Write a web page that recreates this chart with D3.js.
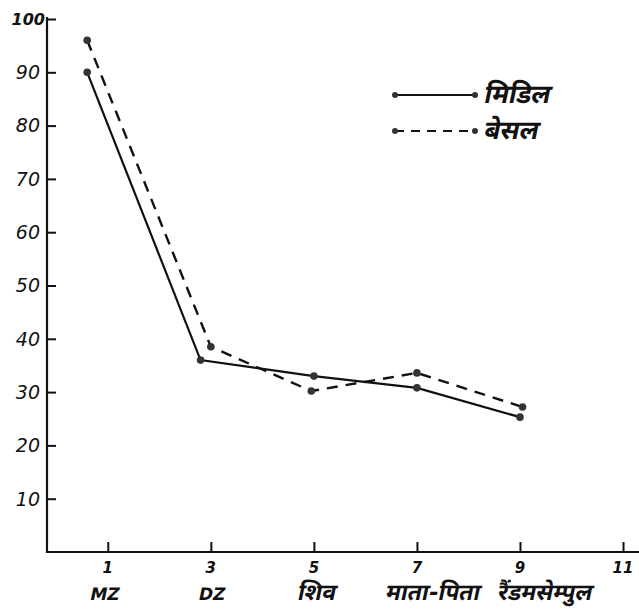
<!DOCTYPE html>
<html><head><meta charset="utf-8">
<script src="https://cdn.jsdelivr.net/npm/d3@7"></script>
<style>
html,body{margin:0;padding:0;background:#fff;}
svg text{font-family:"DejaVu Sans","Noto Sans",sans-serif;font-style:oblique;fill:#111;}
</style></head>
<body>
<svg id="c" width="639" height="613"></svg>
<script>
// Data
const categories = ["MZ", "DZ", "शिव", "माता-पिता", "रैंडमसेम्पुल"];
const xTicks = [1, 3, 5, 7, 9, 11];
const yTicks = [10, 20, 30, 40, 50, 60, 70, 80, 90, 100];
const seriesNames = ["मिडिल", "बेसल"];
const middleX = [0.6, 2.8, 5, 7, 9];
const middleY = [90, 36, 33, 30.8, 25.3];
const basalX = [0.6, 3.0, 4.95, 7, 9.05];
const basalY = [96, 38.5, 30.2, 33.6, 27.2];

const svg = d3.select("#c");
const x = d3.scaleLinear().domain([-0.18, 11.31]).range([47, 639]);
const y = d3.scaleLinear().domain([0, 100]).range([552, 19]);

// axes
const gy = svg.append("g").attr("transform", `translate(${x.range()[0]},0)`)
  .call(d3.axisRight(y).tickValues(yTicks).tickSize(9).tickFormat(""));
gy.select(".domain").attr("stroke", "#111").attr("stroke-width", 2.2).attr("d", `M0,${y(0)+1}V${y(100)-2}`);
gy.selectAll(".tick line").attr("stroke", "#111").attr("stroke-width", 2);
svg.append("g").selectAll("text").data(yTicks).join("text")
  .attr("x", d => d === 100 ? 45 : 40).attr("y", d => y(d)).attr("dy", "0.36em")
  .attr("text-anchor", "end").style("font-size", d => d === 100 ? "16px" : "19px")
  .attr("font-weight", d => d === 100 ? "bold" : "normal")
  .text(d => d);

const gx = svg.append("g").attr("transform", `translate(0,${y(0)})`)
  .call(d3.axisTop(x).tickValues(xTicks).tickSize(10).tickFormat(""));
gx.select(".domain").attr("stroke", "#111").attr("stroke-width", 2.2).attr("d", `M${x.range()[0]},0H639`);
gx.selectAll(".tick line").attr("stroke", "#111").attr("stroke-width", 2);
svg.append("g").selectAll("text").data(xTicks).join("text")
  .attr("x", d => x(d)).attr("y", 573).attr("text-anchor", "middle")
  .style("font-size", "15px").attr("font-weight", "bold").text(d => d);

const labelShift = [-4, 0, 2, 15, 24];
svg.append("g").selectAll("g").data(categories).join("g")
  .attr("transform", (d, i) => `translate(${x(xTicks[i]) + labelShift[i]},600) skewX(-12)`)
  .append("text").attr("text-anchor", "middle")
  .style("font-style", "normal")
  .style("font-size", (d, i) => i < 2 ? "17px" : "23px").attr("font-weight", "bold").text(d => d);

// lines
const line = d3.line().x(d => x(d[0])).y(d => y(d[1]));
const mid = middleX.map((v, i) => [v, middleY[i]]);
const bas = basalX.map((v, i) => [v, basalY[i]]);
svg.append("path").datum(mid).attr("d", line).attr("fill", "none")
  .attr("stroke", "#111").attr("stroke-width", 2.2);
svg.append("path").datum(bas).attr("d", line).attr("fill", "none")
  .attr("stroke", "#111").attr("stroke-width", 2.4).attr("stroke-dasharray", "11,8");
svg.append("g").selectAll("circle").data(mid.concat(bas)).join("circle")
  .attr("cx", d => x(d[0])).attr("cy", d => y(d[1])).attr("r", 3.8).attr("fill", "#333");

// legend
const leg = [{y: 95, dash: null}, {y: 131, dash: "9,7"}];
leg.forEach((l, i) => {
  const p = svg.append("line").attr("x1", 395).attr("x2", 475).attr("y1", l.y).attr("y2", l.y)
    .attr("stroke", "#111").attr("stroke-width", 2);
  if (l.dash) p.attr("stroke-dasharray", l.dash);
  [395, 475].forEach(cx => svg.append("circle").attr("cx", cx).attr("cy", l.y).attr("r", 3).attr("fill", "#333"));
  svg.append("g").attr("transform", `translate(483,${l.y + 8}) skewX(-12)`)
    .append("text").style("font-style", "normal")
    .style("font-size", "26px").attr("font-weight", "bold").text(seriesNames[i]);
});
</script>
</body></html>
